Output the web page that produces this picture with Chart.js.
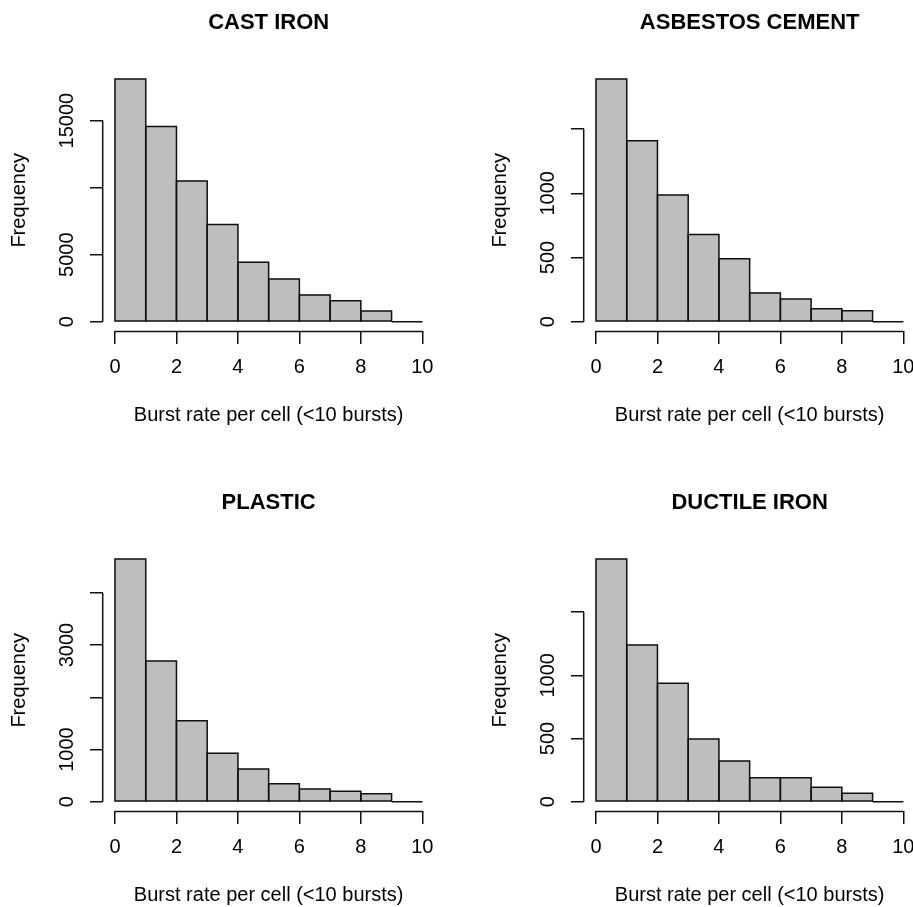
<!DOCTYPE html>
<html><head><meta charset="utf-8">
<script src="https://cdn.jsdelivr.net/npm/chart.js@4.4.1/dist/chart.umd.min.js"></script>
<style>
html,body{margin:0;padding:0;background:#fff;overflow:hidden;width:913px;height:907px;}
#wrap{position:relative;width:913px;height:907px;overflow:hidden;background:#fff;}
canvas{position:absolute;}
</style></head><body><div id="wrap">
<canvas id="c1" width="481" height="480" style="left:0px;top:0px"></canvas>
<canvas id="c2" width="481" height="480" style="left:481px;top:0px"></canvas>
<canvas id="c3" width="481" height="480" style="left:0px;top:480px"></canvas>
<canvas id="c4" width="481" height="480" style="left:481px;top:480px"></canvas>
</div>
<script>
// ---- data ----
const binStarts = [0, 1, 2, 3, 4, 5, 6, 7, 8, 9];
const xTicks = [0, 2, 4, 6, 8, 10];
const xLabel = 'Burst rate per cell (<10 bursts)';
const yLabel = 'Frequency';

const titles = ['CAST IRON', 'ASBESTOS CEMENT', 'PLASTIC', 'DUCTILE IRON'];

const castIron       = [18100, 14550, 10500, 7250, 4440, 3190, 2000, 1570, 800, 0];
const asbestosCement = [1890, 1410, 987, 680, 490, 224, 177, 101, 86, 0];
const plastic        = [4650, 2695, 1550, 930, 627, 345, 243, 200, 154, 0];
const ductileIron    = [1920, 1240, 937, 496, 322, 190, 190, 114, 66, 0];

const castIronTicks  = [0, 5000, 10000, 15000];
const castIronLabels = ['0', '5000', '', '15000'];
const asbestosTicks  = [0, 500, 1000, 1500];
const asbestosLabels = ['0', '500', '1000', ''];
const plasticTicks   = [0, 1000, 2000, 3000, 4000];
const plasticLabels  = ['0', '1000', '', '3000', ''];
const ductileTicks   = [0, 500, 1000, 1500];
const ductileLabels  = ['0', '500', '1000', ''];

// ---- style ----
const FONT = "'Liberation Sans', Arial, Helvetica, sans-serif";
Chart.defaults.font.family = FONT;
Chart.defaults.color = '#000';
const LINE = '#111';
const LW = 1.5;

const measureCtx = document.createElement('canvas').getContext('2d');
measureCtx.font = "20px " + FONT;

const rPlugin = {
  id: 'rstyle',
  afterDatasetsDraw(chart, args, opts) {
    const ctx = chart.ctx;
    const xs = chart.scales.x, ys = chart.scales.y;
    const ca = chart.chartArea;
    ctx.save();
    ctx.strokeStyle = LINE;
    ctx.lineWidth = LW;
    const meta = chart.getDatasetMeta(0);
    meta.data.forEach(el => {
      const p = el.getProps(['x', 'y', 'base', 'width'], true);
      ctx.beginPath();
      ctx.rect(p.x - p.width / 2, Math.min(p.y, p.base), p.width, Math.abs(p.base - p.y));
      if (Math.abs(p.base - p.y) < 0.01) {
        ctx.moveTo(p.x - p.width / 2, p.base);
        ctx.lineTo(p.x + p.width / 2, p.base);
      }
      ctx.stroke();
    });
    const yt = opts.yTicks;
    ctx.beginPath();
    ctx.moveTo(xs.getPixelForValue(xTicks[0]), ca.bottom);
    ctx.lineTo(xs.getPixelForValue(xTicks[xTicks.length - 1]), ca.bottom);
    ctx.moveTo(ca.left, ys.getPixelForValue(yt[0]));
    ctx.lineTo(ca.left, ys.getPixelForValue(yt[yt.length - 1]));
    ctx.stroke();
    ctx.restore();
  }
};

function makeChart(id, title, values, yTicks, yLabels) {
  const M = Math.max(...values);
  let widest = 0;
  yLabels.forEach(l => { widest = Math.max(widest, measureCtx.measureText(l).width); });
  const yPad = 23 - widest / 2;
  return new Chart(document.getElementById(id), {
    type: 'bar',
    data: {
      datasets: [{
        data: binStarts.map((b, i) => ({ x: b + 0.5, y: values[i] })),
        backgroundColor: '#bebebe',
        borderWidth: 0,
        barPercentage: 1,
        categoryPercentage: 1
      }]
    },
    plugins: [rPlugin],
    options: {
      responsive: false,
      animation: false,
      events: [],
      layout: { padding: { left: 0, top: 0, right: 46.4, bottom: 0 } },
      plugins: {
        legend: { display: false },
        tooltip: { enabled: false },
        title: {
          display: true, text: title, fullSize: false, color: '#000',
          font: { size: 22, weight: 'bold', lineHeight: 1.2 },
          padding: { top: 9.3, bottom: 33.6 }
        },
        rstyle: { yTicks: yTicks }
      },
      scales: {
        x: {
          type: 'linear', min: -0.4, max: 10.4, offset: false,
          afterBuildTicks: s => { s.ticks = xTicks.map(v => ({ value: v })); },
          afterFit: s => { s.height = 148.6; },
          grid: { display: true, offset: false, drawOnChartArea: false, drawTicks: true, tickLength: 12.7, color: LINE, lineWidth: LW },
          border: { display: false },
          ticks: { autoSkip: false, maxRotation: 0, minRotation: 0, padding: 11, color: '#000', font: { size: 20 }, callback: v => String(v) },
          title: { display: true, text: xLabel, color: '#000', font: { size: 20, lineHeight: 1.2 }, padding: { top: 0, bottom: 52.5 } }
        },
        y: {
          type: 'linear', min: -0.04 * M, max: 1.04 * M,
          afterBuildTicks: s => { s.ticks = yTicks.map(v => ({ value: v })); },
          afterFit: s => { s.width = 102.7; },
          grid: { display: true, drawOnChartArea: false, drawTicks: true, tickLength: 12.7, color: LINE, lineWidth: LW },
          border: { display: false },
          ticks: { autoSkip: false, minRotation: 90, maxRotation: 90, crossAlign: 'center', padding: yPad, color: '#000', font: { size: 20 },
                   callback: (v, i) => yLabels[i] },
          title: { display: true, text: yLabel, color: '#000', font: { size: 20, lineHeight: 1.2 }, padding: { top: 7.5, bottom: 0 } }
        }
      }
    }
  });
}

makeChart('c1', titles[0], castIron, castIronTicks, castIronLabels);
makeChart('c2', titles[1], asbestosCement, asbestosTicks, asbestosLabels);
makeChart('c3', titles[2], plastic, plasticTicks, plasticLabels);
makeChart('c4', titles[3], ductileIron, ductileTicks, ductileLabels);
</script>
</body></html>
